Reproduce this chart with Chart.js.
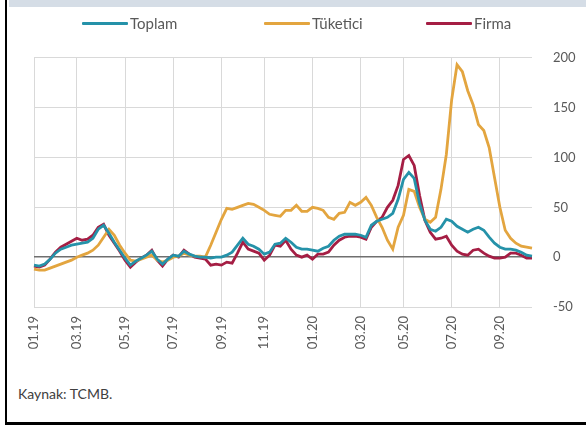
<!DOCTYPE html>
<html>
<head>
<meta charset="utf-8">
<script src="https://cdn.jsdelivr.net/npm/chart.js@4"></script>
<style>
  html,body{margin:0;padding:0;background:#fff;}
  body{width:586px;height:425px;position:relative;overflow:hidden;font-family:Lato,"Open Sans",sans-serif;}
  #band{position:absolute;left:9px;top:0;width:577px;height:7px;background:#d5dde6;}
  #lb{position:absolute;left:5px;top:0;width:2px;height:425px;background:#000;}
  #bb{position:absolute;left:5px;top:422px;width:581px;height:3px;background:#000;}
  #legend{position:absolute;top:13px;left:0;width:586px;height:20px;font-size:15px;color:#595959;}
  .it{position:absolute;top:0;display:flex;align-items:center;height:20px;}
  .it i{display:inline-block;width:46px;height:3px;margin-right:2px;border-radius:1px;}
  #src{position:absolute;left:18px;top:385px;font-size:14px;color:#404040;}
  #wrap{position:absolute;left:8px;top:29px;width:578px;height:341px;}
</style>
</head>
<body>
<div id="band"></div>
<div id="lb"></div>
<div id="bb"></div>
<div id="wrap"><canvas id="c"></canvas></div>
<div id="legend"></div>
<div id="src">Kaynak: TCMB.</div>
<script>
// haftalık seri, 04.01.2019'dan itibaren
const startDate=new Date(2019,0,4);
const nWeeks=94;
const tickLabels=['01.19','03.19','05.19','07.19','09.19','11.19','01.20','03.20','05.20','07.20','09.20'];

const toplam=[-8,-9,-7,-2,4,8,10,12,13,14,15,19,28,32,24,15,7,-1,-8,-4,
  -1,2,6,-2,-7,-2,2,1,6,3,1,0,0,-1,0,0,2,5,12,19,
  13,11,8,3,5,13,14,19,15,10,8,8,7,6,9,11,17,21,23,23,
  23,22,20,32,36,38,40,44,58,78,85,79,54,37,28,26,30,38,36,31,
  28,25,28,30,27,20,14,10,8,8,7,5,2,1];
const tuketici=[-12,-13,-13,-11,-9,-7,-5,-3,0,2,4,7,12,20,28,22,12,4,-3,-4,
  -2,0,2,-3,-5,-3,0,1,4,2,1,1,0,12,25,38,49,48,50,52,
  54,53,50,47,43,42,41,47,47,52,46,46,50,49,47,40,38,44,45,55,
  52,55,60,52,40,30,17,8,30,42,68,66,50,38,35,40,68,103,158,193,
  186,167,153,133,127,110,80,50,27,19,14,11,10,9];
const firma=[-9,-10,-8,-2,5,10,13,16,19,17,18,22,30,33,22,14,6,-3,-10,-5,
  -1,2,7,-3,-9,-2,2,0,7,3,0,-1,-2,-8,-7,-8,-5,-6,4,15,
  8,6,4,-3,2,12,11,17,8,2,0,2,-2,3,3,5,12,17,20,21,
  21,20,18,30,36,40,50,57,72,98,102,92,62,37,25,18,19,21,12,6,
  3,2,7,8,4,1,-1,-1,0,4,4,2,-1,-1];

const seriesNames=['Toplam','Tüketici','Firma'];
const seriesColors=['#2592a9','#e3a53f','#a51e44'];

const weeks=[];
for(let i=0;i<nWeeks;i++){
  const d=new Date(startDate.getTime()+i*7*864e5);
  weeks.push(String(d.getDate()).padStart(2,'0')+'.'+String(d.getMonth()+1).padStart(2,'0')+'.'+String(d.getFullYear()).slice(2));
}
// ayın ilk haftasına denk gelen etiket
const tickAt=i=>{
  const mmyy=weeks[i].slice(3);
  if(!tickLabels.includes(mmyy))return null;
  if(i>0&&weeks[i-1].slice(3)===mmyy)return null;
  return mmyy;
};

// legend
const legPos=[82,264,426];
const leg=document.getElementById('legend');
seriesNames.forEach((n,k)=>{
  const d=document.createElement('div');
  d.className='it';d.style.left=legPos[k]+'px';
  d.innerHTML='<i style="background:'+seriesColors[k]+'"></i><span>'+n+'</span>';
  leg.appendChild(d);
});

const vals=[toplam,tuketici,firma];
new Chart(document.getElementById('c'),{
  type:'line',
  data:{
    labels:weeks,
    datasets:seriesNames.map((n,k)=>({
      label:n,data:vals[k],borderColor:seriesColors[k],backgroundColor:seriesColors[k],
      borderWidth:2.8,pointRadius:0,tension:0,fill:false
    }))
  },
  options:{
    responsive:true,maintainAspectRatio:false,animation:false,
    layout:{padding:{left:26,top:6,right:0,bottom:0}},
    plugins:{legend:{display:false},tooltip:{enabled:false}},
    scales:{
      x:{
        offset:false,
        border:{display:false},
        grid:{drawTicks:false,color:c=>tickAt(c.index)?'#d9d9d9':'rgba(0,0,0,0)',lineWidth:1},
        ticks:{autoSkip:false,maxRotation:90,minRotation:90,padding:9,color:'#595959',
          font:{family:'Lato',size:13},callback:(v,i)=>tickAt(i)||''},
        afterFit:s=>{s.height=63;}
      },
      y:{
        position:'right',min:-50,max:200,
        border:{display:false},
        grid:{drawTicks:false,color:c=>c.tick.value===0?'#6f6f6f':'#d9d9d9',lineWidth:c=>c.tick.value===0?1.6:1},
        ticks:{stepSize:50,padding:21,color:'#595959',font:{family:'Lato',size:13}},
        afterFit:s=>{s.width=54;}
      }
    }
  }
});
</script>
</body>
</html>
